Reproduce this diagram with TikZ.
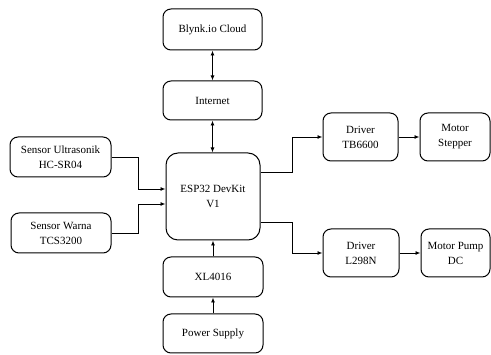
\documentclass[tikz,border=0pt]{standalone}
\usepackage{fontspec}
\setmainfont{Liberation Serif}
\usetikzlibrary{arrows.meta, positioning, calc}

\begin{document}
\begin{tikzpicture}[x=1pt, y=-1pt,
    blok/.style={draw, rounded corners=8pt, line width=1pt, align=center,
        inner sep=0pt, font=\fontsize{11}{15}\selectfont},
    panah/.style={-{Latex[length=5pt,width=4pt]}, line width=0.9pt},
    duapanah/.style={{Latex[length=5pt,width=4pt]}-{Latex[length=5pt,width=4pt]}, line width=0.9pt}]
    \useasboundingbox (0,0) rectangle (491,355);

    % cloud side
    \node[blok, minimum width=99pt, minimum height=41pt] (blynk) at (212.5,29.5) {Blynk.io Cloud};
    \node[blok, minimum width=99pt, minimum height=39pt] (inet) at (212.5,100.5) {Internet};

    % controller
    \node[blok, rounded corners=12pt, minimum width=94pt, minimum height=87pt] (esp) at (213,196.5) {ESP32 DevKit\\V1};

    % sensors
    \node[blok, minimum width=101pt, minimum height=40pt] (ultra) at (60.5,157) {Sensor Ultrasonik\\HC-SR04};
    \node[blok, minimum width=100pt, minimum height=40pt] (warna) at (61,233) {Sensor Warna\\TCS3200};

    % drivers and motors
    \node[blok, minimum width=75pt, minimum height=48pt] (tb) at (360.5,137) {Driver\\TB6600};
    \node[blok, minimum width=70pt, minimum height=48pt] (stepper) at (455,137) {Motor\\Stepper};
    \node[blok, minimum width=76pt, minimum height=48pt] (lmd) at (361,253) {Driver\\L298N};
    \node[blok, minimum width=69pt, minimum height=48pt] (pump) at (455.5,253) {Motor Pump\\DC};

    % power
    \node[blok, minimum width=100pt, minimum height=40pt] (xl) at (213,277) {XL4016};
    \node[blok, minimum width=100pt, minimum height=39pt] (power) at (213,333.5) {Power Supply};

    % connections
    \draw[duapanah] (blynk) -- (inet);
    \draw[duapanah] (inet.south) -- (inet.south |- esp.north);
    \draw[panah] (ultra.east) -- ++(27,0) |- ([yshift=7.5pt]esp.west);
    \draw[panah] (warna.east) -- ++(27,0) |- ([yshift=-7.5pt]esp.west);
    \draw[panah] ([yshift=24.5pt]esp.east) -- ++(32,0) |- (tb.west);
    \draw[panah] ([yshift=-25.5pt]esp.east) -- ++(32,0) |- (lmd.west);
    \draw[panah] (tb) -- (stepper);
    \draw[panah] (lmd) -- (pump);
    \draw[panah] (xl) -- (esp);
    \draw[panah] (power) -- (xl);
\end{tikzpicture}
\end{document}
